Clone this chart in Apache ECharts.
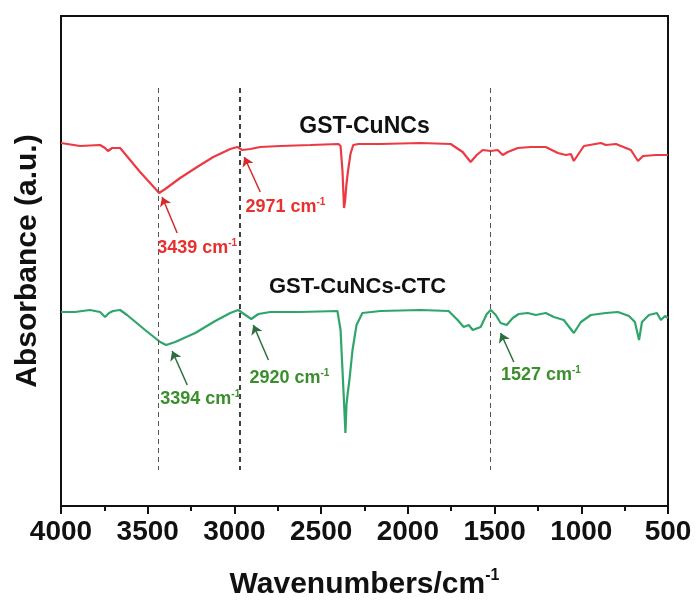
<!DOCTYPE html>
<html>
<head>
<meta charset="utf-8">
<script src="https://cdn.jsdelivr.net/npm/echarts@6/dist/echarts.min.js"></script>
<style>
  html, body { margin: 0; padding: 0; background: #fff; }
  #chart { width: 697px; height: 606px; }
</style>
</head>
<body>
<div id="chart"></div>
<script>
// 数据：波数 / 吸光度（任意单位）
const cunWave = [4000, 3890, 3775, 3746, 3729, 3705, 3659, 3544, 3434, 3399, 3313, 3215, 3122, 3024, 2983, 2955, 2908, 2851, 2735, 2562, 2400, 2388, 2377, 2368, 2362, 2354, 2345, 2331, 2315, 2285, 2158, 1927, 1753, 1684, 1638, 1603, 1568, 1522, 1482, 1453, 1424, 1366, 1291, 1205, 1135, 1089, 1060, 1043, 1020, 985, 887, 858, 800, 714, 673, 644, 569, 500];
const cunAbs = [363, 360, 361, 358, 355, 358, 358, 334, 313, 317, 328, 339, 349, 357, 359, 356, 357, 359, 360, 361, 362, 360, 335, 298, 305, 322, 335, 352, 361, 362, 362, 363, 362, 354, 344, 351, 356, 355, 356, 351, 354, 358, 359, 359, 353, 351, 352, 345, 351, 360, 363, 361, 362, 356, 345, 350, 351, 351];

const ctcWave = [4000, 3919, 3833, 3775, 3746, 3723, 3700, 3659, 3619, 3515, 3428, 3394, 3342, 3226, 3111, 3024, 2978, 2937, 2903, 2862, 2793, 2620, 2406, 2388, 2377, 2366, 2360, 2354, 2348, 2337, 2319, 2296, 2262, 2158, 1927, 1765, 1713, 1678, 1649, 1626, 1580, 1545, 1522, 1493, 1465, 1430, 1395, 1361, 1309, 1262, 1205, 1158, 1101, 1043, 1002, 945, 858, 789, 725, 691, 667, 650, 610, 564, 541, 517, 500];
const ctcAbs = [194, 194, 196, 194, 189, 193, 195, 196, 191, 176, 164, 161, 164, 173, 185, 193, 196, 191, 187, 192, 194, 194, 195, 176, 136, 96, 73, 101, 111, 126, 156, 181, 193, 195, 196, 195, 186, 179, 181, 176, 179, 192, 196, 191, 183, 181, 188, 192, 193, 191, 193, 189, 186, 173, 184, 191, 193, 194, 190, 184, 166, 184, 191, 193, 186, 190, 188];

const xTicks = [4000, 3500, 3000, 2500, 2000, 1500, 1000, 500];

// 参考虚线位置
const peakLines = [3439, 2971, 1527];

// 标注：文字位置 [波数, 值]，箭头 起点 -> 终点
const cunNotes = [
  { text: '3439 cm', at: [3215, 258], from: [3330, 273], to: [3417, 309] },
  { text: '2971 cm', at: [2706, 299], from: [2851, 314], to: [2943, 349] }
];
const ctcNotes = [
  { text: '3394 cm', at: [3197, 107], from: [3272, 121], to: [3359, 155] },
  { text: '2920 cm', at: [2683, 128], from: [2804, 146], to: [2891, 181] },
  { text: '1527 cm', at: [1233, 131], from: [1389, 144], to: [1465, 173] }
];
const sampleNames = ['GST-CuNCs', 'GST-CuNCs-CTC'];
const namePos = [[2250, 379], [2290, 219]];

const FONT = 'Liberation Sans, Arial, sans-serif';
const RED = '#ec3a43';
const GREEN = '#2fa56b';

function pairs(xs, ys) {
  return xs.map((x, i) => [x, ys[i]]);
}

function noteLabel(color) {
  return {
    show: true,
    position: 'inside',
    formatter: p => '{a|' + p.name + '}{b|-1}',
    rich: {
      a: { fontFamily: FONT, fontWeight: 'bold', fontSize: 18, color: color, lineHeight: 20 },
      b: { fontFamily: FONT, fontWeight: 'bold', fontSize: 10, color: color, lineHeight: 10, verticalAlign: 'top' }
    }
  };
}

function arrows(notes, color) {
  return {
    silent: true,
    symbol: ['none', 'arrow'],
    symbolSize: 9,
    label: { show: false },
    lineStyle: { color: color, width: 1.5, type: 'solid' },
    data: notes.map(n => [{ coord: n.from }, { coord: n.to }])
  };
}

const chart = echarts.init(document.getElementById('chart'));

const option = {
  animation: false,
  grid: {
    left: 61, right: 29, top: 16, bottom: 100,
    show: true, borderColor: '#111', borderWidth: 2, backgroundColor: 'transparent'
  },
  xAxis: {
    type: 'value',
    inverse: true,
    min: 500,
    max: 4000,
    interval: 500,
    name: '{a|Wavenumbers/cm}{b|-1}',
    nameLocation: 'middle',
    nameGap: 62,
    nameTextStyle: {
      rich: {
        a: { fontFamily: FONT, fontWeight: 'bold', fontSize: 30, color: '#111', lineHeight: 34 },
        b: { fontFamily: FONT, fontWeight: 'bold', fontSize: 16, color: '#111', lineHeight: 16, verticalAlign: 'top' }
      }
    },
    axisLine: { show: true, onZero: false, lineStyle: { color: '#111', width: 2 } },
    axisTick: { show: true, length: 8, lineStyle: { color: '#111', width: 2 } },
    minorTick: { show: true, splitNumber: 2, length: 5, lineStyle: { color: '#111', width: 2 } },
    axisLabel: {
      margin: 12,
      fontFamily: FONT, fontWeight: 'bold', fontSize: 28, color: '#111',
      formatter: v => (xTicks.includes(v) ? String(v) : '')
    },
    splitLine: { show: false }
  },
  yAxis: {
    type: 'value',
    min: 0,
    max: 490,
    name: 'Absorbance (a.u.)',
    nameLocation: 'middle',
    nameGap: 18,
    nameTextStyle: { fontFamily: FONT, fontWeight: 'bold', fontSize: 30, color: '#111' },
    axisLine: { show: true, lineStyle: { color: '#111', width: 2 } },
    axisTick: { show: false },
    axisLabel: { show: false },
    splitLine: { show: false }
  },
  series: [
    {
      name: sampleNames[0],
      type: 'line',
      data: pairs(cunWave, cunAbs),
      showSymbol: false,
      lineStyle: { color: RED, width: 2.2 },
      z: 3,
      markLine: arrows(cunNotes, '#d42a2a'),
      markPoint: {
        symbol: 'circle', symbolSize: 0,
        data: cunNotes.map(n => ({ name: n.text, coord: n.at, label: noteLabel('#e8302f') }))
          .concat([{
            name: sampleNames[0], coord: namePos[0],
            label: { show: true, position: 'inside', formatter: '{b}', fontFamily: FONT, fontWeight: 'bold', fontSize: 23, color: '#111' }
          }])
      }
    },
    {
      name: sampleNames[1],
      type: 'line',
      data: pairs(ctcWave, ctcAbs),
      showSymbol: false,
      lineStyle: { color: GREEN, width: 2.2 },
      z: 3,
      markLine: arrows(ctcNotes, '#2e6e3e'),
      markPoint: {
        symbol: 'circle', symbolSize: 0,
        data: ctcNotes.map(n => ({ name: n.text, coord: n.at, label: noteLabel('#3a8f2c') }))
          .concat([{
            name: sampleNames[1], coord: namePos[1],
            label: { show: true, position: 'inside', formatter: '{b}', fontFamily: FONT, fontWeight: 'bold', fontSize: 22, color: '#111' }
          }])
      }
    },
    {
      // 竖直虚线
      name: 'peaks',
      type: 'line',
      data: [],
      markLine: {
        silent: true,
        symbol: ['none', 'none'],
        label: { show: false },
        data: peakLines.map((w, i) => [
          { coord: [w, 418], lineStyle: { color: i === 1 ? '#111' : '#555', width: i === 1 ? 1.6 : 1, type: [5, 4] } },
          { coord: [w, 36] }
        ])
      }
    }
  ]
};

chart.setOption(option);

window.addEventListener('resize', () => {
  chart.resize();
});
</script>
</body>
</html>
